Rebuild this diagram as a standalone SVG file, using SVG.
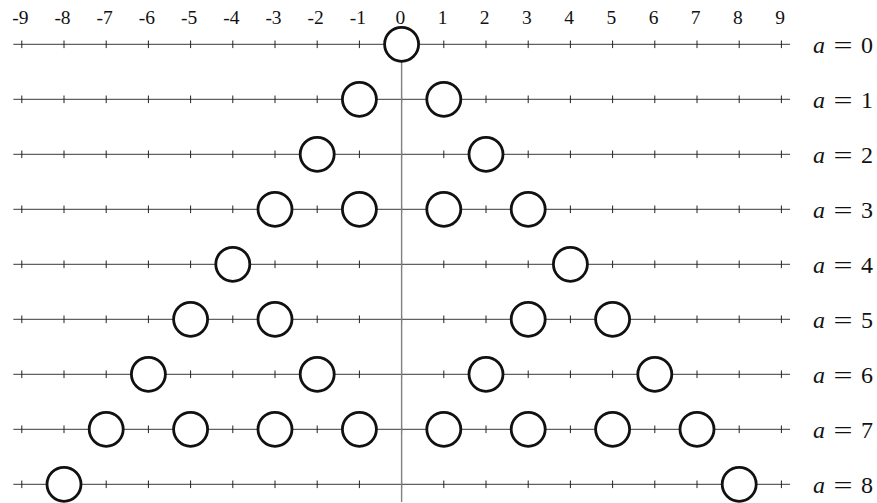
<svg xmlns="http://www.w3.org/2000/svg" width="877" height="503" viewBox="0 0 877 503">
<style>
.ax{stroke:#3a3a3a;stroke-width:1;fill:none}
.tk{stroke:#222;stroke-width:1}
.vl{stroke:#808080;stroke-width:1.4}
.c{fill:#fff;stroke:#111;stroke-width:2.8}
.n{font-family:"Liberation Serif","Times New Roman",serif;font-size:19.5px;fill:#111;text-anchor:middle}
.lb{font-family:"Liberation Serif","Times New Roman",serif;font-size:24px;fill:#111}
</style>
<defs>
<g id="row">
<line class="ax" x1="13.3" y1="0" x2="790" y2="0"/>
<path class="tk" d="M21.8-3.8v7.6M64-3.8v7.6M106.2-3.8v7.6M148.4-3.8v7.6M190.6-3.8v7.6M232.8-3.8v7.6M275-3.8v7.6M317.2-3.8v7.6M359.4-3.8v7.6M401.6-3.8v7.6M443.8-3.8v7.6M486-3.8v7.6M528.2-3.8v7.6M570.4-3.8v7.6M612.6-3.8v7.6M654.8-3.8v7.6M697-3.8v7.6M739.2-3.8v7.6M781.4-3.8v7.6"/>
</g>
<g id="eq">
<text class="lb" x="813" y="0" font-style="italic">a</text>
<text class="lb" x="833.5" y="0" textLength="19" lengthAdjust="spacingAndGlyphs">=</text>
</g>
</defs>
<g id="labels">
<text class="n" x="20.3" y="24">-9</text>
<text class="n" x="62.5" y="24">-8</text>
<text class="n" x="104.7" y="24">-7</text>
<text class="n" x="146.9" y="24">-6</text>
<text class="n" x="189.1" y="24">-5</text>
<text class="n" x="231.3" y="24">-4</text>
<text class="n" x="273.5" y="24">-3</text>
<text class="n" x="315.7" y="24">-2</text>
<text class="n" x="357.9" y="24">-1</text>
<text class="n" x="400.3" y="24">0</text>
<text class="n" x="442.5" y="24">1</text>
<text class="n" x="484.7" y="24">2</text>
<text class="n" x="526.9" y="24">3</text>
<text class="n" x="569.1" y="24">4</text>
<text class="n" x="611.3" y="24">5</text>
<text class="n" x="653.5" y="24">6</text>
<text class="n" x="695.7" y="24">7</text>
<text class="n" x="737.9" y="24">8</text>
<text class="n" x="780.1" y="24">9</text>
</g>
<g id="connectors">
<use href="#row" y="44.3"/>
<use href="#row" y="99.3"/>
<use href="#row" y="154.3"/>
<use href="#row" y="209.3"/>
<use href="#row" y="264.3"/>
<use href="#row" y="319.3"/>
<use href="#row" y="374.3"/>
<use href="#row" y="429.3"/>
<use href="#row" y="484.3"/>
<line class="vl" x1="401.6" y1="44" x2="401.6" y2="502"/>
</g>
<g id="a0"><circle class="c" cx="401.6" cy="44.3" r="17"/><use href="#eq" y="53.4"/><text class="lb" x="861" y="53.4">0</text></g>
<g id="a1"><circle class="c" cx="359.4" cy="99.3" r="17"/><circle class="c" cx="443.8" cy="99.3" r="17"/><use href="#eq" y="108.4"/><text class="lb" x="861" y="108.4">1</text></g>
<g id="a2"><circle class="c" cx="317.2" cy="154.3" r="17"/><circle class="c" cx="486" cy="154.3" r="17"/><use href="#eq" y="163.4"/><text class="lb" x="861" y="163.4">2</text></g>
<g id="a3"><circle class="c" cx="275" cy="209.3" r="17"/><circle class="c" cx="359.4" cy="209.3" r="17"/><circle class="c" cx="443.8" cy="209.3" r="17"/><circle class="c" cx="528.2" cy="209.3" r="17"/><use href="#eq" y="218.4"/><text class="lb" x="861" y="218.4">3</text></g>
<g id="a4"><circle class="c" cx="232.8" cy="264.3" r="17"/><circle class="c" cx="570.4" cy="264.3" r="17"/><use href="#eq" y="273.4"/><text class="lb" x="861" y="273.4">4</text></g>
<g id="a5"><circle class="c" cx="190.6" cy="319.3" r="17"/><circle class="c" cx="275" cy="319.3" r="17"/><circle class="c" cx="528.2" cy="319.3" r="17"/><circle class="c" cx="612.6" cy="319.3" r="17"/><use href="#eq" y="328.4"/><text class="lb" x="861" y="328.4">5</text></g>
<g id="a6"><circle class="c" cx="148.4" cy="374.3" r="17"/><circle class="c" cx="317.2" cy="374.3" r="17"/><circle class="c" cx="486" cy="374.3" r="17"/><circle class="c" cx="654.8" cy="374.3" r="17"/><use href="#eq" y="383.4"/><text class="lb" x="861" y="383.4">6</text></g>
<g id="a7"><circle class="c" cx="106.2" cy="429.3" r="17"/><circle class="c" cx="190.6" cy="429.3" r="17"/><circle class="c" cx="275" cy="429.3" r="17"/><circle class="c" cx="359.4" cy="429.3" r="17"/><circle class="c" cx="443.8" cy="429.3" r="17"/><circle class="c" cx="528.2" cy="429.3" r="17"/><circle class="c" cx="612.6" cy="429.3" r="17"/><circle class="c" cx="697" cy="429.3" r="17"/><use href="#eq" y="438.4"/><text class="lb" x="861" y="438.4">7</text></g>
<g id="a8"><circle class="c" cx="64" cy="484.3" r="17"/><circle class="c" cx="739.2" cy="484.3" r="17"/><use href="#eq" y="493.4"/><text class="lb" x="861" y="493.4">8</text></g>
</svg>
